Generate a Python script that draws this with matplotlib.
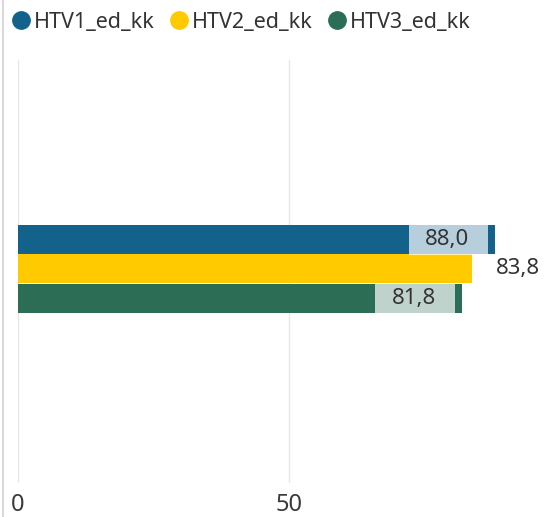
import matplotlib.pyplot as plt
from matplotlib.lines import Line2D

series = ["HTV1_ed_kk", "HTV2_ed_kk", "HTV3_ed_kk"]
values = [88.0, 83.8, 81.8]
colors = ["#12628C", "#FFCA00", "#2B6E55"]
inside = [True, False, True]  # label drawn inside the bar with a light box
xticks = [0, 50]

plt.rcParams["font.family"] = ["Noto Sans", "DejaVu Sans"]

fig = plt.figure(figsize=(5.44, 5.17), dpi=100)
ax = fig.add_axes([18 / 544, 1 - 483 / 517, 1 - 18 / 544, (483 - 60) / 517])

ypos = [1, 0, -1]
ax.barh(ypos, values, height=0.97, color=colors, zorder=2)

# data labels
for y, v, inn in zip(ypos, values, inside):
    txt = f"{v:.1f}".replace(".", ",")
    if inn:
        ax.barh(y, 14.6, left=v - 15.9, height=1.08, color="white", alpha=0.7,
                linewidth=0, zorder=3)
        ax.annotate(txt, (v, y), xytext=(-48, 0), textcoords="offset pixels",
                    ha="center", va="center", fontsize=16, color="#333333", zorder=4)
    else:
        ax.annotate(txt, (v, y), xytext=(23, 0), textcoords="offset pixels",
                    ha="left", va="center", fontsize=16, color="#333333", zorder=4)

ax.set_xlim(0, 97)
ax.set_ylim(-7.17, 7.0)
ax.set_xticks(xticks)
ax.set_xticklabels([str(t) for t in xticks], fontsize=17, color="#3A3A3A")
ax.set_yticks([])
ax.tick_params(axis="x", length=0, pad=7)
ax.grid(axis="x", color="#E6E6E6", linewidth=1, zorder=0)
for s in ax.spines.values():
    s.set_visible(False)

handles = [Line2D([], [], marker="o", linestyle="", markersize=12.5,
                  markerfacecolor=c, markeredgecolor=c) for c in colors]
fig.legend(handles, series, loc="upper left", bbox_to_anchor=(-0.005, 1.0), ncol=3,
           frameon=False, fontsize=15.5, handletextpad=0.05, columnspacing=0.58,
           borderaxespad=0.15, handlelength=1.1, labelcolor="#333333")

# screenshot frame line on the left edge
fig.add_artist(Line2D([2.5 / 544, 2.5 / 544], [0, 1], color="#D9D9D9", linewidth=1.5))

fig.savefig("out.png", dpi=100)
